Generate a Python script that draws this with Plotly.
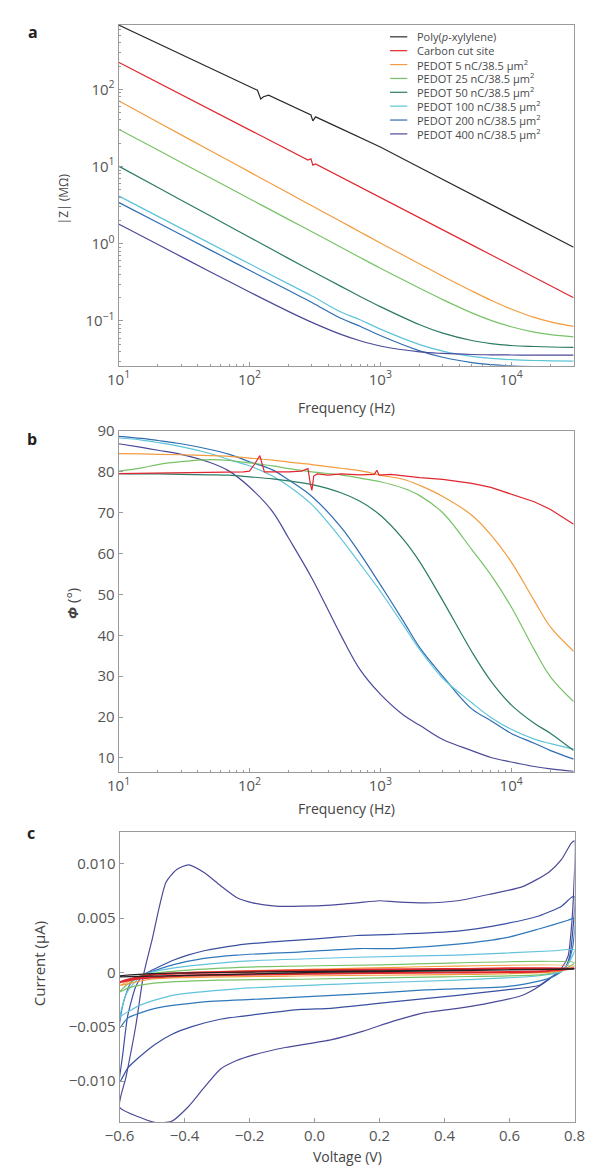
import plotly.graph_objects as go

# page body adds an 8px margin; build the figure so reference pixel
# positions land where they belong in the 598x1173 window
OFF = 8
W, H = 598 - OFF, 1173 - OFF
FONT = "Open Sans"

# ---------------- Panel a: |Z| vs frequency ----------------
NAMES = ["Poly(<i>p</i>-xylylene)", "Carbon cut site",
         "PEDOT 5 nC/38.5 μm<sup>2</sup>", "PEDOT 25 nC/38.5 μm<sup>2</sup>",
         "PEDOT 50 nC/38.5 μm<sup>2</sup>", "PEDOT 100 nC/38.5 μm<sup>2</sup>",
         "PEDOT 200 nC/38.5 μm<sup>2</sup>", "PEDOT 400 nC/38.5 μm<sup>2</sup>"]
COLORS = ["#2b2b2b", "#e0262e", "#f39c3f", "#79c267",
          "#2b7b66", "#5fc4d8", "#2f6db3", "#4b4a99"]

F_BLACK_A = [10, 20, 50, 100, 115, 122, 128, 140, 200, 280, 295, 305, 320,
             500, 1000, 2000, 5000, 10000, 20000, 30000]
Z_BLACK_A = [680, 392, 191, 110, 97, 75, 80, 84, 63.7, 48.7, 46.5, 39, 43.9,
             30.9, 17.9, 9.7, 4.35, 2.36, 1.28, 0.90]

F_RED_A = [10, 20, 50, 100, 200, 280, 295, 305, 320, 500, 1000, 2000, 3000,
           5000, 7000, 10000, 15000, 20000, 30000]
Z_RED_A = [224, 122, 54.6, 29.8, 16.2, 12.1, 12.6, 10.4, 10.8, 7.27, 3.96,
           2.16, 1.51, 0.966, 0.72, 0.527, 0.369, 0.287, 0.20]

F_A = [10, 20, 50, 100, 200, 300, 500, 700, 1000, 2000, 3000, 5000, 7000,
       10000, 15000, 20000, 30000]
Z_P5 = [70.8, 37.4, 16.1, 8.51, 4.49, 3.10, 1.94, 1.42, 1.023, 0.546, 0.379,
        0.244, 0.185, 0.1425, 0.111, 0.097, 0.0848]
Z_P25 = [30.4, 16.3, 7.14, 3.83, 2.05, 1.426, 0.900, 0.663, 0.482, 0.2645,
         0.1887, 0.1272, 0.1017, 0.0839, 0.0716, 0.0665, 0.0622]
Z_P50 = [10.1, 5.33, 2.30, 1.214, 0.641, 0.444, 0.280, 0.2076, 0.153, 0.0892,
         0.0694, 0.0557, 0.0509, 0.048, 0.0466, 0.0459, 0.0455]
Z_P100 = [4.16, 2.26, 1.01, 0.549, 0.2995, 0.210, 0.1305, 0.1035, 0.0783,
          0.0494, 0.0407, 0.0348, 0.0327, 0.0315, 0.0307, 0.0304, 0.0302]
Z_P200 = [3.43, 1.863, 0.832, 0.453, 0.247, 0.1736, 0.108, 0.0853, 0.0646,
          0.0409, 0.0338, 0.0289, 0.0272, 0.0262, 0.0256, 0.0254, 0.0252]
Z_P400 = [1.80, 0.975, 0.434, 0.237, 0.132, 0.0958, 0.0669, 0.0553, 0.0473,
          0.0397, 0.0379, 0.0367, 0.0364, 0.0362, 0.0361, 0.0360, 0.0360]

# ---------------- Panel b: phase vs frequency ----------------
F_RED_B = [10, 20, 50, 90, 100, 110, 120, 125, 130, 150, 200, 250, 280, 292,
           300, 310, 330, 400, 500, 700, 900, 940, 980, 1200, 1500, 2000, 3000,
           5000, 7000, 10000, 15000, 20000, 30000]
P_RED = [79.6, 79.7, 79.8, 80.0, 80.2, 82.0, 84.0, 82.0, 80.0, 80.0, 80.0,
         80.2, 80.8, 77.0, 75.5, 79.0, 79.5, 79.2, 79.5, 79.3, 79.4, 80.4, 79.2,
         79.4, 79.0, 78.6, 78.2, 77.2, 76.2, 74.6, 72.7, 70.8, 67.2]

F_B = [10, 15, 20, 30, 50, 70, 100, 150, 200, 300, 500, 700, 1000, 1500, 2000,
       3000, 5000, 7000, 10000, 15000, 20000, 30000]
P_P5 = [84.5, 84.4, 84.3, 84.2, 84.0, 83.8, 83.4, 82.9, 82.4, 81.8, 80.9, 80.3,
        79.2, 78.2, 76.7, 74.0, 69.4, 64.6, 58.0, 48.5, 42.0, 36.1]
P_P25 = [80.2, 81.0, 81.8, 82.5, 83.0, 82.8, 82.2, 81.5, 80.8, 80.0, 79.3,
         78.5, 77.6, 76.0, 74.2, 70.0, 61.0, 54.8, 47.0, 36.5, 29.8, 23.8]
P_P50 = [79.6, 79.5, 79.5, 79.4, 79.3, 79.2, 78.8, 78.3, 77.8, 76.9, 74.9,
         72.8, 69.4, 63.5, 58.0, 48.5, 36.0, 28.8, 23.0, 18.5, 16.0, 11.8]
P_P100 = [88.3, 87.8, 87.2, 86.2, 84.5, 83.0, 81.5, 79.0, 76.5, 72.0, 63.7,
          57.5, 50.8, 42.5, 36.5, 29.5, 23.5, 19.9, 17.0, 14.6, 13.5, 12.2]
P_P200 = [88.7, 88.2, 87.7, 86.9, 85.5, 84.3, 82.5, 80.5, 78.0, 74.0, 66.5,
          60.0, 52.4, 43.5, 37.0, 30.0, 22.0, 19.1, 16.0, 13.6, 11.8, 9.7]
P_P400 = [86.9, 86.0, 85.3, 84.3, 82.3, 80.2, 76.3, 70.3, 63.7, 54.0, 40.0,
          31.6, 25.6, 20.5, 18.0, 14.5, 11.8, 10.1, 9.0, 7.9, 7.3, 6.7]

# ---------------- Panel c: cyclic voltammograms ----------------
V_P400 = [-0.6, -0.58, -0.55, -0.526, -0.5, -0.457, -0.423, -0.388, -0.34,
          -0.29, -0.24, -0.19, -0.12, -0.04, 0.05, 0.13, 0.2, 0.25, 0.34, 0.44,
          0.54, 0.64, 0.72, 0.76, 0.79, 0.8,
          0.798, 0.79, 0.78, 0.76, 0.74, 0.69, 0.64, 0.54, 0.44, 0.34, 0.24,
          0.15, 0.05, -0.09, -0.19, -0.24, -0.29, -0.34, -0.39, -0.44, -0.49,
          -0.54, -0.6]
I_P400 = [-0.0124, -0.0096, -0.0049, -0.0002, 0.0030, 0.0083, 0.0095, 0.0099,
          0.0092, 0.0080, 0.0069, 0.0064, 0.0061, 0.0061, 0.0062, 0.0064,
          0.0066, 0.0065, 0.0064, 0.0066, 0.0072, 0.0079, 0.0092, 0.0104,
          0.0119, 0.0121,
          0.0080, 0.0040, 0.0015, 0.0004, -0.0002, -0.0013, -0.0021, -0.0028,
          -0.0033, -0.0037, -0.0045, -0.0054, -0.0062, -0.0069, -0.0076,
          -0.0081, -0.0089, -0.0106, -0.0124, -0.0137, -0.0138, -0.0133,
          -0.0124]

V_P200 = [-0.6, -0.59, -0.575, -0.55, -0.526, -0.48, -0.437, -0.39, -0.34,
          -0.24, -0.14, -0.04, 0.05, 0.13, 0.24, 0.44, 0.59, 0.69, 0.76, 0.79,
          0.8,
          0.795, 0.785, 0.77, 0.75, 0.72, 0.69, 0.59, 0.44, 0.24, 0.05, -0.04,
          -0.19, -0.29, -0.38, -0.44, -0.49, -0.54, -0.575, -0.6]
I_P200 = [-0.0101, -0.0075, -0.0040, -0.0013, -0.0002, 0.0005, 0.0011, 0.0016,
          0.0020, 0.0025, 0.0028, 0.0030, 0.0032, 0.0034, 0.0035, 0.0038,
          0.0045, 0.0052, 0.0061, 0.0069, 0.0070,
          0.0040, 0.0015, 0.0004, 0.0000, -0.0006, -0.0012, -0.0016, -0.0021,
          -0.0027, -0.0033, -0.0034, -0.0039, -0.0043, -0.0050, -0.0057,
          -0.0066, -0.0078, -0.0088, -0.0101]

V_P100 = [-0.6, -0.59, -0.57, -0.55, -0.526, -0.437, -0.34, -0.24, -0.04,
          0.134, 0.244, 0.44, 0.59, 0.69, 0.78, 0.8,
          0.795, 0.78, 0.76, 0.74, 0.69, 0.59, 0.34, 0.13, -0.14, -0.34, -0.49,
          -0.575, -0.6]
I_P100 = [-0.0051, -0.0030, -0.0012, -0.0005, -0.0002, 0.0007, 0.0013, 0.0016,
          0.0019, 0.0022, 0.0022, 0.0026, 0.0032, 0.0040, 0.0048, 0.0050,
          0.0025, 0.0008, 0.0001, -0.0003, -0.0008, -0.0013, -0.0016, -0.0020,
          -0.0024, -0.0027, -0.0033, -0.0042, -0.0051]

V_P50 = [-0.6, -0.58, -0.55, -0.526, -0.437, -0.24, 0.134, 0.44, 0.74, 0.8,
         0.78, 0.76, 0.69, 0.44, 0.134, -0.24, -0.437, -0.536, -0.595, -0.6]
I_P50 = [-0.0042, -0.0020, -0.0008, -0.0002, 0.0004, 0.0010, 0.0014, 0.0016,
         0.0020, 0.0021,
         0.0008, 0.0001, -0.0003, -0.0007, -0.0010, -0.0015, -0.0021, -0.0030,
         -0.0040, -0.0042]

V_P25 = [-0.6, -0.58, -0.55, -0.526, -0.4, -0.2, 0.2, 0.8,
         0.76, 0.7, 0.4, 0.0, -0.3, -0.5, -0.57, -0.6]
I_P25 = [-0.0018, -0.0012, -0.0006, -0.0002, 0.0002, 0.0005, 0.0007, 0.0009,
         0.0002, -0.0002, -0.0004, -0.0006, -0.0007, -0.0010, -0.0014, -0.0018]

V_P5 = [-0.6, -0.55, -0.5, 0.0, 0.8, 0.75, 0.4, 0.0, -0.5, -0.6]
I_P5 = [-0.0012, -0.0006, -0.0002, 0.0003, 0.0006, 0.0001, -0.0002, -0.0003,
        -0.0006, -0.0012]

V_RED = [-0.6, -0.55, -0.5, 0.0, 0.4, 0.8, 0.7, 0.4, 0.0, -0.4, -0.55, -0.6]
I_RED = [-0.0009, -0.0005, -0.0002, 0.0002, 0.0003, 0.0004, 0.0001, 0.0000,
         -0.0001, -0.0003, -0.0006, -0.0009]

V_BLACK = [-0.6, -0.5, 0.0, 0.8, 0.0, -0.6]
I_BLACK = [-0.0003, -0.0001, 0.0001, 0.0003, 0.0000, -0.0004]

COLORS_C = ["#4b4a99", "#3b4fa0", "#2f78bb", "#62c3dc", "#79c267", "#f39c3f",
            "#e0262e", "#222222"]

fig = go.Figure()

a_series = [(F_BLACK_A, Z_BLACK_A), (F_RED_A, Z_RED_A), (F_A, Z_P5), (F_A, Z_P25),
            (F_A, Z_P50), (F_A, Z_P100), (F_A, Z_P200), (F_A, Z_P400)]
for k, ((f, z), name, col) in enumerate(zip(a_series, NAMES, COLORS)):
    shape = "linear" if k < 2 else "spline"
    fig.add_trace(go.Scatter(x=f, y=z, mode="lines", name=name, showlegend=False,
                             line=dict(color=col, width=1.2, shape=shape),
                             xaxis="x", yaxis="y"))

b_series = [(F_RED_B, P_RED, COLORS[1]), (F_B, P_P5, COLORS[2]),
            (F_B, P_P25, COLORS[3]), (F_B, P_P50, COLORS[4]),
            (F_B, P_P100, COLORS[5]), (F_B, P_P200, COLORS[6]),
            (F_B, P_P400, COLORS[7])]
for f, p, col in b_series[::-1]:
    shape = "linear" if col == COLORS[1] else "spline"
    fig.add_trace(go.Scatter(x=f, y=p, mode="lines", showlegend=False,
                             line=dict(color=col, width=1.2, shape=shape),
                             xaxis="x2", yaxis="y2"))

c_series = [(V_P400, I_P400), (V_P200, I_P200), (V_P100, I_P100), (V_P50, I_P50),
            (V_P25, I_P25), (V_P5, I_P5), (V_RED, I_RED), (V_BLACK, I_BLACK)]
for (v, i), col in zip(c_series, COLORS_C):
    w = 2.2 if col == "#e0262e" else 1.2
    fig.add_trace(go.Scatter(x=v, y=i, mode="lines", showlegend=False,
                             line=dict(color=col, width=w, shape="spline", smoothing=0.6),
                             xaxis="x3", yaxis="y3"))

AX = dict(showline=True, linecolor="#9a9a9a", linewidth=1, mirror=True,
          ticks="inside", tickcolor="#9a9a9a", ticklen=4, showgrid=False,
          zeroline=False, tickfont=dict(family=FONT, size=15, color="#555555"))

def minor_log(lo_exp, hi_exp):
    return dict(ticks="inside", ticklen=2, tickcolor="#9a9a9a", showgrid=False,
                tickmode="array",
                tickvals=[m * 10 ** e for e in range(lo_exp, hi_exp) for m in range(2, 10)])

def px_x(a, b):
    return [(a - OFF) / W, (b - OFF) / W]

def px_y(top, bottom):
    return [1 - (bottom - OFF) / H, 1 - (top - OFF) / H]

log_ticks = [10, 100, 1000, 10000]
log_text = ["10<sup>1</sup>", "10<sup>2</sup>", "10<sup>3</sup>", "10<sup>4</sup>"]

fig.update_layout(
    width=W, height=H, margin=dict(l=0, r=0, t=0, b=0),
    paper_bgcolor="white", plot_bgcolor="white", showlegend=False,
    font=dict(family=FONT, color="#444444"),
    xaxis=dict(AX, type="log", range=[1, 4.477], domain=px_x(108, 584),
               tickvals=log_ticks, ticktext=log_text, minor=minor_log(1, 5), anchor="y"),
    yaxis=dict(AX, type="log", range=[-1.58, 2.833], domain=px_y(14, 358),
               tickvals=[0.1, 1, 10, 100],
               ticktext=["10<sup>−1</sup>", "10<sup>0</sup>", "10<sup>1</sup>", "10<sup>2</sup>"],
               minor=minor_log(-2, 3), anchor="x"),
    xaxis2=dict(AX, type="log", range=[1, 4.477], domain=px_x(108, 584),
                tickvals=log_ticks, ticktext=log_text, minor=minor_log(1, 5), anchor="y2"),
    yaxis2=dict(AX, range=[6.6, 90], domain=px_y(424, 768),
                tickvals=[10, 20, 30, 40, 50, 60, 70, 80, 90], anchor="x2"),
    xaxis3=dict(AX, range=[-0.6, 0.8], domain=px_x(109, 585),
                tickvals=[-0.6, -0.4, -0.2, 0.0, 0.2, 0.4, 0.6, 0.8],
                ticktext=["−0.6", "−0.4", "−0.2", "0.0", "0.2", "0.4", "0.6", "0.8"],
                anchor="y3"),
    yaxis3=dict(AX, range=[-0.0138, 0.0129], domain=px_y(829, 1122),
                tickvals=[-0.01, -0.005, 0, 0.005, 0.01],
                ticktext=["−0.010", "−0.005", "0", "0.005", "0.010"], anchor="x3"),
)

def ann(text, x, y, size=14, angle=0, bold=False, xanchor="center", color=None):
    fig.add_annotation(text=f"<b>{text}</b>" if bold else text,
                       x=(x - OFF) / W, y=1 - (y - OFF) / H, xref="paper", yref="paper",
                       xanchor=xanchor, yanchor="middle",
                       showarrow=False, textangle=angle,
                       font=dict(family=FONT, size=size,
                                 color=color or ("#222222" if bold else "#444444")))

# legend of panel a, drawn inside the frame
LEG_X0, LEG_X1, LEG_TX, LEG_Y0, LEG_DY = 392, 410, 418, 26, 14.0
for k, (name, col) in enumerate(zip(NAMES, COLORS)):
    yy = LEG_Y0 + k * LEG_DY
    fig.add_shape(type="line", xref="paper", yref="paper",
                  x0=(LEG_X0 - OFF) / W, x1=(LEG_X1 - OFF) / W,
                  y0=1 - (yy - OFF) / H, y1=1 - (yy - OFF) / H,
                  line=dict(color=col, width=1.2))
    ann(name, LEG_TX, yy, size=11, xanchor="left", color="#4a4a4a")

ann("a", 18, 21, size=16, bold=True)
ann("b", 17, 432, size=16, bold=True)
ann("c", 16, 830, size=16, bold=True)
ann("Frequency (Hz)", 346, 400)
ann("Frequency (Hz)", 346, 805)
ann("Voltage (V)", 347, 1156)
ann("|Z| (MΩ)", 50, 190, size=12, angle=-90)
ann("<b><i>Φ</i></b> (°)", 60, 598, size=15, angle=-90)
ann("Current (μA)", 25, 962, size=15, angle=-90)

fig.write_html("out.html")
